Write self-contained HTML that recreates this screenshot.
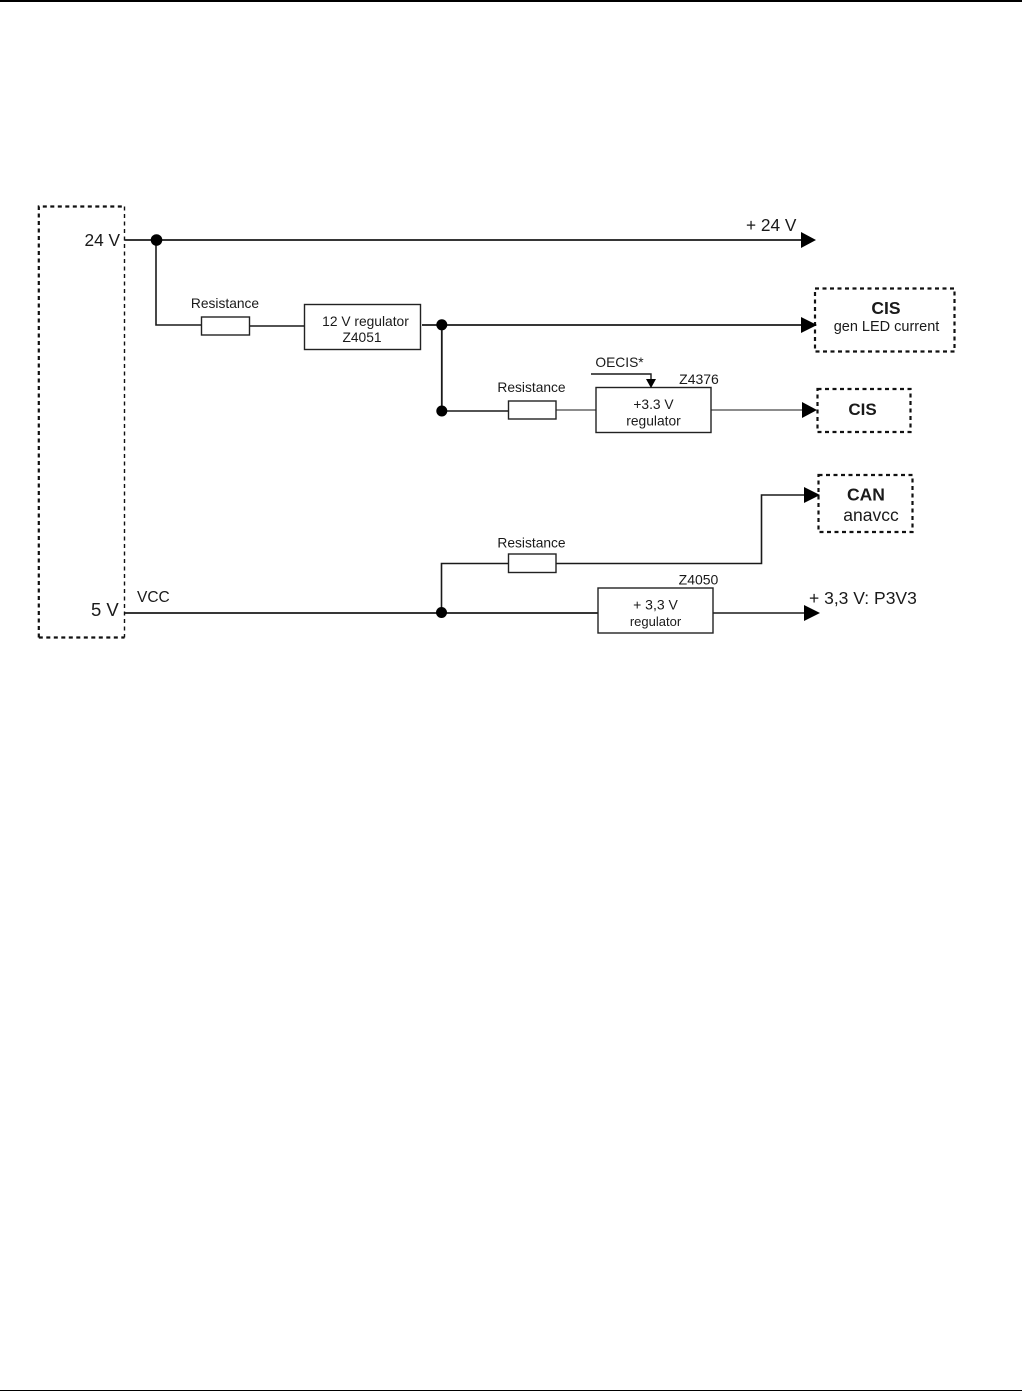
<!DOCTYPE html>
<html><head><meta charset="utf-8"><style>
html,body{margin:0;padding:0;background:#fff}
svg{display:block}
text{font-family:"Liberation Sans",sans-serif;fill:#1a1a1a}
</style></head><body>
<svg width="1022" height="1391" viewBox="0 0 1022 1391" xmlns="http://www.w3.org/2000/svg">
<rect width="1022" height="1391" fill="#fff"/>
<rect x="0" y="0" width="1022" height="2" fill="#000"/>
<rect x="0" y="1390" width="1022" height="1" fill="#000"/>

<!-- dashed boxes -->
<g fill="none" stroke="#111" stroke-dasharray="4 3.500">
<path d="M38.800 637.500V206.500H124.500" stroke-width="2.200"/>
<path d="M38.800 637.500H124.500" stroke-width="2.200"/>
<path d="M124.500 206.500V637.500" stroke-width="1.400"/>
<rect x="815" y="288.500" width="139.500" height="63" stroke-width="2.200"/>
<rect x="817.500" y="389" width="93" height="43" stroke-width="2.200"/>
<rect x="818.500" y="475" width="94" height="57" stroke-width="2.200"/>
</g>

<!-- wires -->
<g fill="none" stroke="#1a1a1a" stroke-width="1.600">
<path d="M124.500 240H803" stroke-width="1.800"/>
<path d="M156 240V325H201.500" stroke-width="1.600"/>
<path d="M249.500 326H304.500"/>
<path d="M422 325H803" stroke-width="1.800"/>
<path d="M441.800 325V411" stroke-width="1.800"/>
<path d="M441.800 411H508.500"/>
<path d="M556 410H596" stroke="#666"/>
<path d="M711 410H803" stroke="#666"/>
<path d="M591 374H651V381" stroke-width="1.400"/>
<path d="M441.500 613V563.500H508.500"/>
<path d="M556 563.500H761.500V495H806"/>
<path d="M125 613H598" stroke-width="1.700"/>
<path d="M713 613H806"/>
</g>

<!-- component boxes -->
<g fill="#fff" stroke="#222" stroke-width="1.400">
<rect x="201.500" y="317" width="48" height="18"/>
<rect x="304.500" y="304.500" width="116" height="45"/>
<rect x="508.500" y="401" width="47.500" height="18"/>
<rect x="596" y="387.500" width="115" height="45"/>
<rect x="508.500" y="554" width="47.500" height="18.500"/>
<rect x="598" y="588" width="115" height="45"/>
</g>

<!-- dots -->
<g fill="#000">
<circle cx="156.500" cy="240" r="5.800"/>
<circle cx="441.800" cy="324.800" r="5.500"/>
<circle cx="441.800" cy="411" r="5.500"/>
<circle cx="441.500" cy="612.500" r="5.500"/>
</g>

<!-- arrowheads -->
<g fill="#000">
<polygon points="801,232 816,240 801,248"/>
<polygon points="801,317 817,325 801,333"/>
<polygon points="802,402 817,410 802,418"/>
<polygon points="804,487 820,495 804,503"/>
<polygon points="804,605 820,613 804,621"/>
<polygon points="646,379 656,379 651,388"/>
</g>

<!-- labels -->
<text x="84.500" y="246" font-size="17.300">24 V</text>
<text x="91" y="616" font-size="18.500">5 V</text>
<text x="137" y="602" font-size="15.500">VCC</text>
<text x="746" y="231" font-size="17.300">+ 24 V</text>
<g font-size="13.800" text-anchor="middle">
<text x="225" y="308">Resistance</text>
<text x="531.500" y="392">Resistance</text>
<text x="531.500" y="547.500">Resistance</text>
<text x="365.500" y="326">12 V regulator</text>
<text x="362" y="342">Z4051</text>
<text x="653.500" y="409">+3.3 V</text>
<text x="653.500" y="425.500">regulator</text>
<text x="655.500" y="609.500" font-size="14">+ 3,3 V</text>
<text x="655.500" y="626" font-size="13">regulator</text>
<text x="619.500" y="367">OECIS*</text>
<text x="699" y="384" font-size="14">Z4376</text>
<text x="698.500" y="584.500" font-size="14">Z4050</text>
</g>
<text x="886" y="314" font-size="17.500" font-weight="bold" text-anchor="middle">CIS</text>
<text x="886.500" y="331" font-size="14.500" text-anchor="middle">gen LED current</text>
<text x="862.500" y="415" font-size="17" font-weight="bold" text-anchor="middle">CIS</text>
<text x="866" y="500.500" font-size="17.500" font-weight="bold" text-anchor="middle">CAN</text>
<text x="871" y="521" font-size="17.500" text-anchor="middle">anavcc</text>
<text x="809" y="604" font-size="17.500">+ 3,3 V: P3V3</text>
</svg>
</body></html>
